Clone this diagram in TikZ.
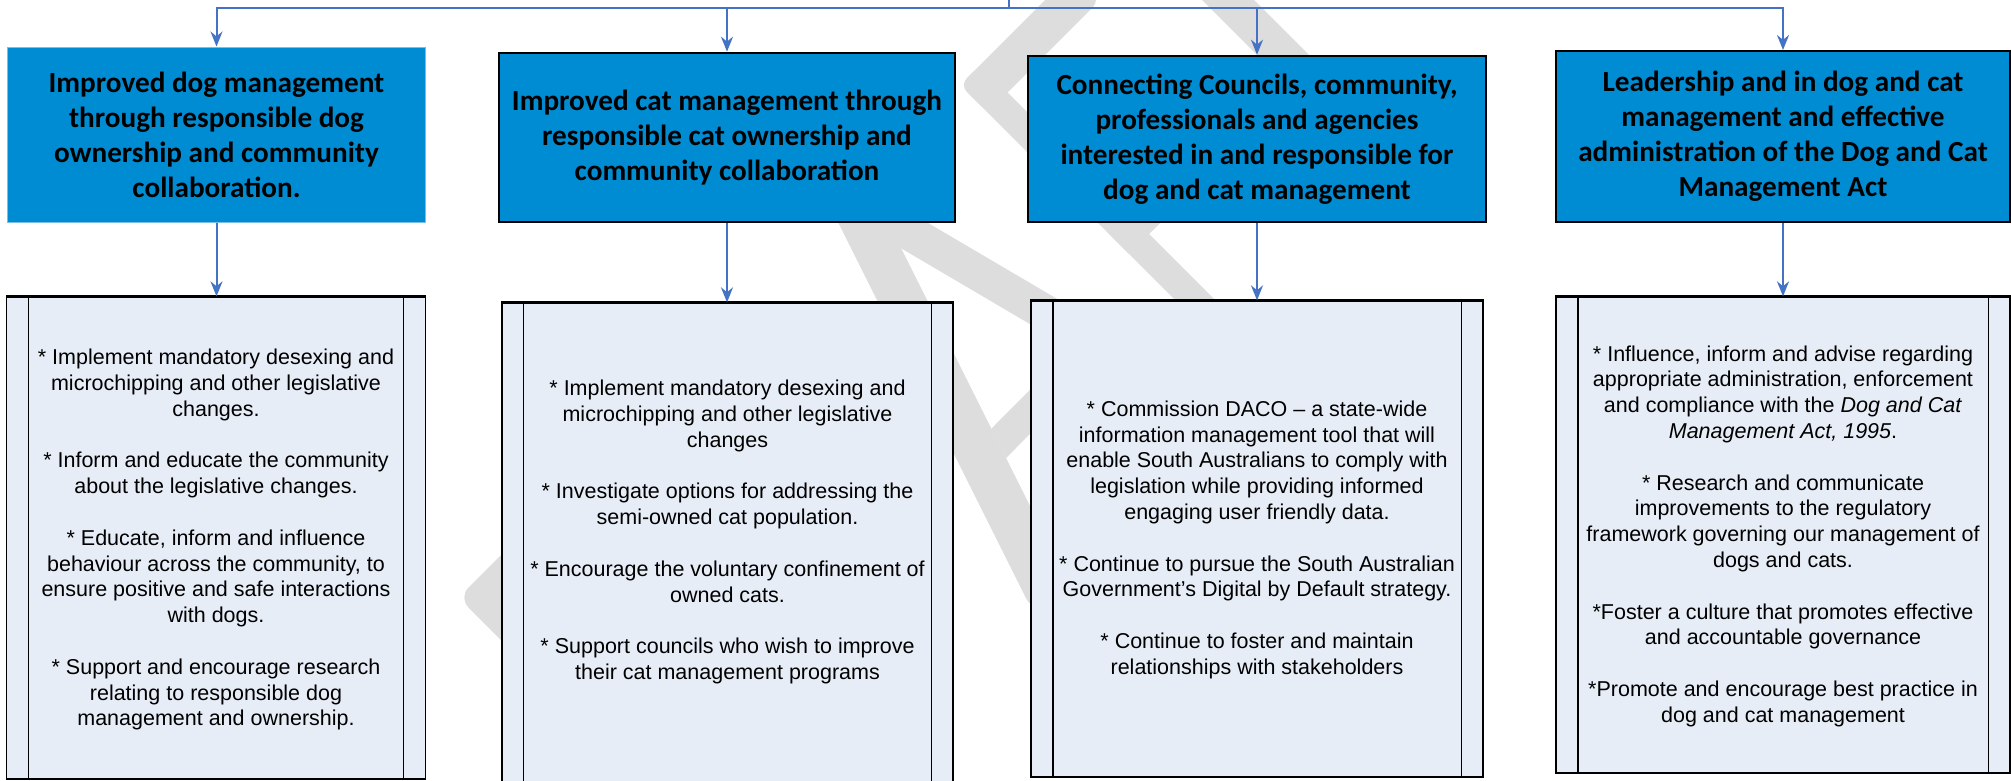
\documentclass[tikz,border=0pt]{standalone}
\usepackage{fontspec}
\setmainfont{Liberation Sans}
\newfontfamily\hdrfont{Carlito}
\usetikzlibrary{arrows.meta}
\definecolor{hdrblue}{RGB}{0,140,210}
\definecolor{hdredge}{RGB}{120,190,230}
\definecolor{bodyfill}{RGB}{231,237,247}
\definecolor{connblue}{RGB}{68,114,196}
\definecolor{wmgray}{RGB}{221,221,221}
\tikzset{
  hdrbox/.style={rectangle, fill=hdrblue, draw=black, line width=2pt, inner sep=0pt,
    font=\hdrfont\bfseries\fontsize{29.2}{35}\selectfont, align=center},
  procbox/.style={rectangle, fill=bodyfill, draw=black, line width=1.3pt, inner sep=0pt},
  procline/.style={draw=black, line width=1.3pt},
  proctop/.style={draw=black, line width=2.4pt},
  bodytext/.style={font=\fontsize{21.5}{25.8}\selectfont, align=center, inner sep=0pt},
  connector/.style={draw=connblue, line width=2pt},
  arr/.style={connector, -{Stealth[length=15pt,width=12pt]}},
  wmshape/.style={fill=wmgray, rounded corners=10pt},
}
\begin{document}
\begin{tikzpicture}[x=1pt,y=-1pt]
\useasboundingbox (0,0) rectangle (2011,780);
% watermark (pieces of a large diagonal "DRAFT", mostly hidden behind the boxes)
\begin{scope}
\clip (0,0) rectangle (2011,780);
% R
\fill[wmshape, rounded corners=14pt] (458.5,597.5) -- (620,436) -- (800,700) -- (650,789) -- cycle;
% A: left leg, right leg, cross bar
\fill[wmshape] (802,150) -- (1031.3,608.7) -- (1064.7,575.3) -- (852,150) -- cycle;
\fill[wmshape] (785,180) -- (1159,400) -- (1229,400) -- (855,180) -- cycle;
\fill[wmshape, rounded corners=0pt] (991.3,428.7) -- (1071,348.6) -- (1099,364.8) -- (1006,458) -- cycle;
% F: top bar, stem, middle bar
\fill[wmshape] (960,85) -- (1072.5,-27.5) -- (1100,0) -- (987.5,112.5) -- cycle;
\fill[wmshape] (960,85) -- (980,65) -- (1277.5,362.5) -- (1257.5,382.5) -- cycle;
\fill[wmshape, rounded corners=0pt] (1107.5,232.5) -- (1200,140) -- (1221.5,161.5) -- (1129,254) -- cycle;
% T: stem
\fill[wmshape, rounded corners=0pt] (1101,-101) -- (1127,-127) -- (1427,173) -- (1401,199) -- cycle;
\end{scope}
% header boxes
\node[hdrbox, draw=hdredge, line width=1pt, minimum width=418pt, minimum height=175.7pt] (H1) at (216.5,134.85)
  {Improved dog management\\through responsible dog\\ownership and community\\collaboration.};
\node[hdrbox, minimum width=456pt, minimum height=169.6pt] (H2) at (727,137.5)
  {Improved cat management through\\responsible cat ownership and\\community collaboration};
\node[hdrbox, minimum width=458pt, minimum height=166.6pt] (H3) at (1257,139)
  {Connecting Councils, community,\\professionals and agencies\\interested in and responsible for\\dog and cat management};
\node[hdrbox, minimum width=454pt, minimum height=171pt] (H4) at (1783,136.5)
  {Leadership and in dog and cat\\management and effective\\administration of the Dog and Cat\\Management Act};
% process boxes
\node[procbox, minimum width=419pt, minimum height=482pt] (L1) at (216,538) {};
\node[procbox, minimum width=451pt, minimum height=490pt] (L2) at (727.5,548) {};
\node[procbox, minimum width=452pt, minimum height=476pt] (L3) at (1257,539) {};
\node[procbox, minimum width=454pt, minimum height=476pt] (L4) at (1783,535) {};
\foreach \b/\d in {L1/22.5, L2/22, L3/22.5, L4/22.5}{
  \draw[procline] ([xshift=\d pt]\b.north west) -- ([xshift=\d pt]\b.south west);
  \draw[procline] ([xshift=-\d pt]\b.north east) -- ([xshift=-\d pt]\b.south east);
  \draw[proctop] (\b.north west) -- (\b.north east);
}
% texts
\node[bodytext] (T1) at (216,539.7) {* Implement mandatory desexing and\\microchipping and other legislative\\changes.\\[25.8pt]
* Inform and educate the community\\about the legislative changes.\\[25.8pt]
* Educate, inform and influence\\behaviour across the community, to\\ensure positive and safe interactions\\with dogs.\\[25.8pt]
* Support and encourage research\\relating to responsible dog\\management and ownership.};
\node[bodytext] (T2) at (727.5,532) {* Implement mandatory desexing and\\microchipping and other legislative\\changes\\[25.8pt]
* Investigate options for addressing the\\semi-owned cat population.\\[25.8pt]
* Encourage the voluntary confinement of\\owned cats.\\[25.8pt]
* Support councils who wish to improve\\their cat management programs};
\node[bodytext] (T3) at (1257,539.7) {* Commission DACO – a state-wide\\information management tool that will\\enable South Australians to comply with\\legislation while providing informed\\engaging user friendly data.\\[25.8pt]
* Continue to pursue the South Australian\\Government’s Digital by Default strategy.\\[25.8pt]
* Continue to foster and maintain\\relationships with stakeholders};
\node[bodytext] (T4) at (1783,536.2) {* Influence, inform and advise regarding\\appropriate administration, enforcement\\and compliance with the \textit{Dog and Cat}\\\textit{Management Act, 1995}.\\[25.8pt]
* Research and communicate\\improvements to the regulatory\\framework governing our management of\\dogs and cats.\\[25.8pt]
*Foster a culture that promotes effective\\and accountable governance\\[25.8pt]
*Promote and encourage best practice in\\dog and cat management};
% connectors
\coordinate (root) at (1009,0);
\coordinate (bus) at (1009,8.3);
\draw[connector] (root) -- (bus);
\foreach \h in {H1,H2,H3,H4}{
  \draw[arr] (bus) -| (\h.north);
}
\foreach \h/\l in {H1/L1,H2/L2,H3/L3,H4/L4}{
  \draw[arr] (\h.south) -- (\h.south |- \l.north);
}
\end{tikzpicture}
\end{document}
